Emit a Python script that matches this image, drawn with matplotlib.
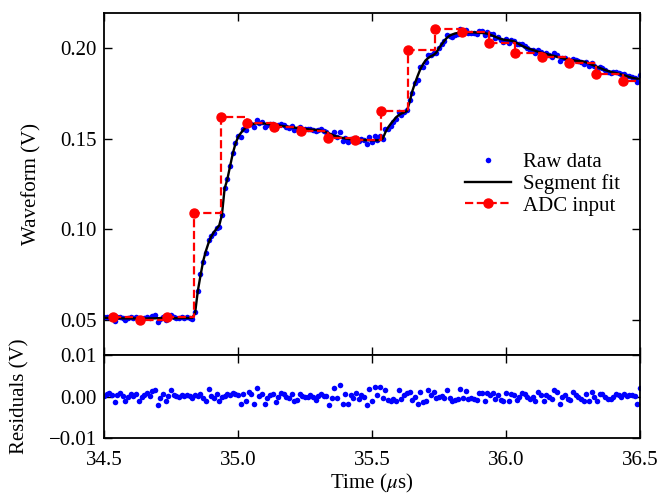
import matplotlib
matplotlib.use("Agg")
import matplotlib.pyplot as plt
import numpy as np

plt.rcParams['font.family'] = ['Liberation Serif', 'DejaVu Serif']
plt.rcParams['mathtext.fontset'] = 'stix'
plt.rcParams['font.size'] = 15

# segment fit (V), sampled every 0.01 us from 34.50 us
fit_v = [
    0.0512, 0.0512, 0.0511, 0.0511, 0.0510, 0.0510, 0.0510, 0.0509, 0.0509, 0.0509,
    0.0509, 0.0509, 0.0508, 0.0508, 0.0508, 0.0508, 0.0508, 0.0509, 0.0509, 0.0509,
    0.0510, 0.0510, 0.0510, 0.0510, 0.0510, 0.0510, 0.0510, 0.0510, 0.0510, 0.0511,
    0.0511, 0.0511, 0.0511, 0.0512, 0.0540, 0.0660, 0.0745, 0.0825, 0.0880, 0.0925,
    0.0960, 0.0985, 0.1003, 0.1022, 0.1080, 0.1225, 0.1275, 0.1344, 0.1415, 0.1470,
    0.1508, 0.1530, 0.1548, 0.1562, 0.1572, 0.1577, 0.1582, 0.1584, 0.1585, 0.1585,
    0.1583, 0.1581, 0.1579, 0.1577, 0.1575, 0.1573, 0.1571, 0.1569, 0.1567, 0.1565,
    0.1563, 0.1561, 0.1559, 0.1557, 0.1555, 0.1554, 0.1552, 0.1550, 0.1549, 0.1548,
    0.1547, 0.1544, 0.1540, 0.1535, 0.1529, 0.1522, 0.1516, 0.1511, 0.1507, 0.1504,
    0.1501, 0.1499, 0.1497, 0.1496, 0.1495, 0.1494, 0.1493, 0.1492, 0.1492, 0.1491,
    0.1491, 0.1491, 0.1491, 0.1492, 0.1500, 0.1535, 0.1562, 0.1582, 0.1600, 0.1618,
    0.1630, 0.1639, 0.1645, 0.1652, 0.1700, 0.1760, 0.1805, 0.1845, 0.1882, 0.1910,
    0.1932, 0.1945, 0.1955, 0.1962, 0.1975, 0.2000, 0.2020, 0.2040, 0.2057, 0.2068,
    0.2075, 0.2080, 0.2083, 0.2085, 0.2086, 0.2086, 0.2086, 0.2086, 0.2086, 0.2085,
    0.2084, 0.2083, 0.2082, 0.2079, 0.2074, 0.2068, 0.2062, 0.2056, 0.2050, 0.2046,
    0.2044, 0.2042, 0.2040, 0.2036, 0.2028, 0.2020, 0.2012, 0.2005, 0.1999, 0.1994,
    0.1989, 0.1984, 0.1979, 0.1975, 0.1971, 0.1967, 0.1963, 0.1959, 0.1956, 0.1952,
    0.1948, 0.1944, 0.1940, 0.1937, 0.1934, 0.1932, 0.1930, 0.1928, 0.1927, 0.1925,
    0.1920, 0.1914, 0.1908, 0.1902, 0.1896, 0.1890, 0.1884, 0.1878, 0.1873, 0.1869,
    0.1865, 0.1862, 0.1858, 0.1854, 0.1850, 0.1845, 0.1840, 0.1836, 0.1833, 0.1831,
    0.1830,
]

# residuals (mV), raw data minus fit
resid_mv = [
    0.2, 0.5, 0.8, 0.3, -1.4, 0.4, 0.8, 0.1, -1.0, 0.0,
    0.5, 0.2, 0.6, -1.2, 0.0, 0.4, 0.8, 0.1, 1.4, 1.6,
    -2.1, -0.4, 0.5, -1.2, 0.2, 1.5, 0.4, 0.2, 0.0, 0.3,
    0.2, 0.4, 0.2, -0.4, 0.4, 0.2, 0.6, -0.4, -1.2, 1.8,
    0.2, -0.4, 0.5, -1.0, 0.0, 0.2, 0.5, 0.3, 0.8, 0.7,
    0.4, -1.9, 0.5, -1.2, 1.0, 0.5, -1.9, 2.0, 0.2, 0.5,
    -1.7, -0.4, 0.4, 0.6, -1.4, 0.0, 0.8, 0.5, 0.0, -0.4,
    0.5, -1.1, -0.8, 0.5, 0.1, 0.0, 0.0, 0.4, 0.0, -0.8,
    0.2, 0.7, 0.2, 0.2, -2.1, -0.3, 2.0, -0.3, 2.7, -1.7,
    0.5, -1.8, 0.3, -0.3, 0.8, -0.6, 0.4, -0.2, -2.1, 1.8,
    -1.2, 2.4, 0.4, 2.2, -0.3, 1.6, -0.8, -1.1, -0.6, -1.2,
    1.6, -0.6, 0.4, 0.8, 1.2, -0.8, 0.0, -1.9, 1.2, -1.4,
    -1.2, 1.6, 0.4, 1.0, -0.4, 0.0, 0.2, -0.3, 1.6, -0.4,
    -1.2, -0.8, -0.6, 1.8, -0.4, 1.4, -0.6, -0.3, -0.6, -0.8,
    0.8, 0.8, -1.2, 0.8, 0.4, 0.8, -0.6, 0.4, -0.8, -1.2,
    0.8, -1.2, 0.5, 0.4, -0.8, 0.0, 0.8, 0.5, 0.0, -0.6,
    0.0, -1.1, 1.2, 0.4, -1.1, 0.4, 0.0, -0.6, 1.6, 1.0,
    -1.7, 0.0, 0.4, -0.6, -0.8, 1.0, 0.4, 0.0, -0.6, -1.1,
    0.5, -1.1, 1.0, 0.0, -1.2, 0.5, 0.5, 0.0, -0.6, -0.6,
    0.0, 0.5, 0.3, 0.0, 0.5, 0.2, 0.4, 0.3, 0.1, -1.9, 2.0,
]

# ADC input samples (every 0.1 us)
adc_t = [34.535, 34.635, 34.735, 34.835, 34.935, 35.035, 35.135, 35.235, 35.335, 35.435,
         35.535, 35.635, 35.735, 35.835, 35.935, 36.035, 36.135, 36.235, 36.335, 36.435]
adc_v = [0.0514, 0.0501, 0.0514, 0.1090, 0.1621, 0.1588, 0.1566, 0.1544, 0.1505, 0.1492,
         0.1655, 0.1991, 0.2105, 0.2089, 0.2028, 0.1972, 0.1953, 0.1917, 0.1854, 0.1819]

n = min(len(fit_v), len(resid_mv))
t = 34.5 + 0.01 * np.arange(n)
fit = np.array(fit_v[:n])
resid = np.array(resid_mv[:n]) * 1e-3
raw = fit + resid

fig = plt.figure(figsize=(6.6, 4.96), dpi=100)
ax = fig.add_axes([0.1576, 0.2843, 0.8121, 0.6895])
axr = fig.add_axes([0.1576, 0.1169, 0.8121, 0.1674], sharex=ax)

ax.plot(t, raw, 'o', color='b', ms=4, mec='none', label='Raw data')
ax.plot(t, fit, '-', color='k', lw=1.7, label='Segment fit')
# hold last ADC value to the edge of the plot
step_t = adc_t + [adc_t[-1] + 0.1]
step_v = adc_v + [adc_v[-1]]
ax.plot(step_t, step_v, '--o', color='r', lw=1.6, ms=6.5, drawstyle='steps-post',
        markevery=list(range(len(adc_t))), label='ADC input')

ax.set_xlim(34.5, 36.5)
ax.set_ylim(0.0307, 0.2193)
ax.set_yticks([0.05, 0.10, 0.15, 0.20])
ax.set_ylabel('Waveform (V)', labelpad=14)
ax.tick_params(labelbottom=False)
ax.legend(loc='center right', bbox_to_anchor=(0.99, 0.5), frameon=False,
          handlelength=2.2, handletextpad=0.6, labelspacing=0.1, borderpad=0.2)

axr.plot(t, resid, 'o', color='b', ms=4, mec='none')
axr.set_ylim(-0.01, 0.01)
axr.set_yticks([-0.01, 0.0, 0.01])
axr.set_yticklabels(['\u22120.01', '0.00', '0.01'])
axr.set_xticks([34.5, 35.0, 35.5, 36.0, 36.5])
axr.set_xticklabels(['34.5', '35.0', '35.5', '36.0', '36.5'])
axr.set_xlabel('Time ($\\mu$s)', labelpad=2)
axr.set_ylabel('Residuals (V)', labelpad=14)

for a in (ax, axr):
    a.tick_params(direction='in', top=True, right=True, length=6, width=1.0, pad=5)
    a.tick_params(axis='x', pad=9)
    for s in a.spines.values():
        s.set_linewidth(1.3)

fig.align_ylabels([ax, axr])
fig.savefig('out.png', dpi=100)
